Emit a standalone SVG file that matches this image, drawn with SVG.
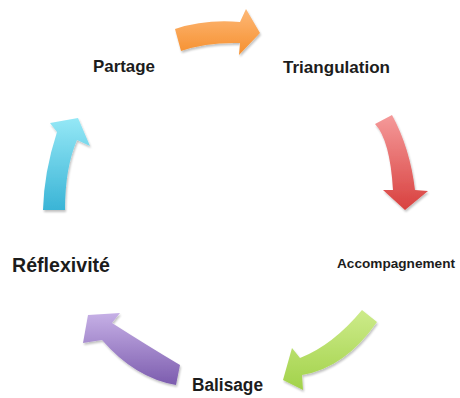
<svg xmlns="http://www.w3.org/2000/svg" width="460" height="398" viewBox="0 0 460 398">
  <style>
    .lbl { font-family: "Liberation Sans", Arial, sans-serif; font-weight: bold; fill: #1c1c1c; }
  </style>
  <defs>
    <filter id="sh" x="-20%" y="-20%" width="140%" height="140%">
      <feGaussianBlur in="SourceAlpha" stdDeviation="1.2"/>
      <feOffset dx="1" dy="1.5" result="b"/>
      <feComponentTransfer><feFuncA type="linear" slope="0.25"/></feComponentTransfer>
      <feMerge><feMergeNode/><feMergeNode in="SourceGraphic"/></feMerge>
    </filter>
    <linearGradient id="gO" x1="0" y1="0" x2="0" y2="1">
      <stop offset="0" stop-color="#fdb877"/><stop offset="1" stop-color="#f6902f"/>
    </linearGradient>
    <linearGradient id="gR" x1="0" y1="0" x2="0" y2="1">
      <stop offset="0" stop-color="#f59a9a"/><stop offset="1" stop-color="#d8413f"/>
    </linearGradient>
    <linearGradient id="gG" x1="0" y1="0" x2="0" y2="1">
      <stop offset="0" stop-color="#cdeb8a"/><stop offset="1" stop-color="#a2d24a"/>
    </linearGradient>
    <linearGradient id="gP" x1="0" y1="0" x2="0" y2="1">
      <stop offset="0" stop-color="#c6b0e6"/><stop offset="1" stop-color="#7c5cae"/>
    </linearGradient>
    <linearGradient id="gC" x1="0" y1="0" x2="0" y2="1">
      <stop offset="0" stop-color="#95e8f6"/><stop offset="1" stop-color="#3ab4d6"/>
    </linearGradient>
  </defs>

  <g id="connectors" filter="url(#sh)">
    <path id="arrow-orange" fill="url(#gO)" d="M175,29 Q205,19 240,22 L246,9 L260,33 L239,55 L240,43 Q207,42 181,51 Z"/>
    <path id="arrow-red" fill="url(#gR)" d="M375,124 L392,115 Q410,148 415,190 L428,191 L405,210 L383,190 L393,190 Q390,140 375,124 Z"/>
    <path id="arrow-green" fill="url(#gG)" d="M362,310 L377,322 Q345,368 302,375 L303,390 L283,380 L292,348 L300,358 Q333,345 362,310 Z"/>
    <path id="arrow-purple" fill="url(#gP)" d="M180,365 Q148,346 112,323 L120,313 L88,315 L83,343 L102,340 Q135,378 176,385 Z"/>
    <path id="arrow-cyan" fill="url(#gC)" d="M43,210 Q44,172 57,132 L50,123 L78,118 L90,146 L77,140 Q65,168 65,210 Z"/>
  </g>

  <g id="node-partage"><text class="lbl" x="93" y="72" font-size="17" textLength="62" lengthAdjust="spacingAndGlyphs">Partage</text></g>
  <g id="node-triangulation"><text class="lbl" x="283" y="73" font-size="17" textLength="107" lengthAdjust="spacingAndGlyphs">Triangulation</text></g>
  <g id="node-accompagnement"><text class="lbl" x="337" y="268" font-size="13.5" textLength="118" lengthAdjust="spacingAndGlyphs">Accompagnement</text></g>
  <g id="node-balisage"><text class="lbl" x="192" y="390.5" font-size="18" textLength="71" lengthAdjust="spacingAndGlyphs">Balisage</text></g>
  <g id="node-reflexivite"><text class="lbl" x="12" y="272" font-size="20" textLength="98" lengthAdjust="spacingAndGlyphs">Réflexivité</text></g>
</svg>
